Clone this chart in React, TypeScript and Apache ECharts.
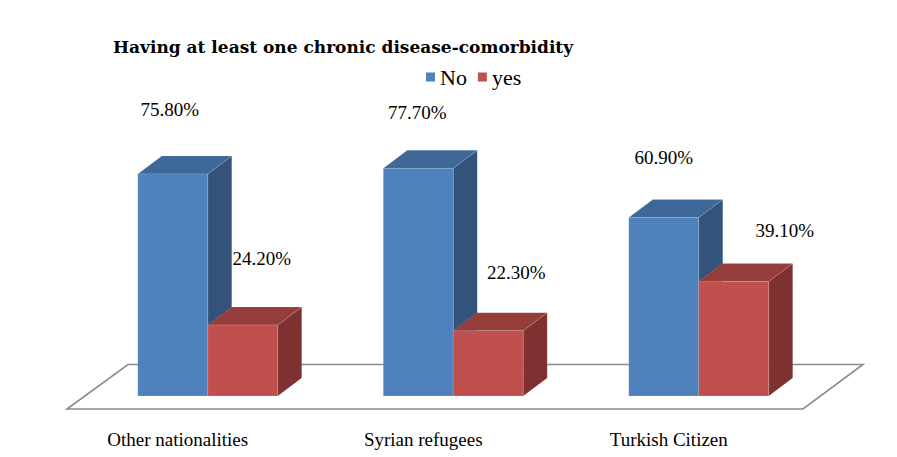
import React, { useEffect, useRef } from "react";
import * as echarts from "echarts";

const titleText = "Having at least one chronic disease-comorbidity";
const categories = ["Other nationalities", "Syrian refugees", "Turkish Citizen"];
const seriesNames = ["No", "yes"];
const noValues = [75.8, 77.7, 60.9];
const yesValues = [24.2, 22.3, 39.1];

// Palette for each box: front, top and side faces
const faces = [
  { front: "#4F81BD", top: "#3E6897", side: "#33537B" },
  { front: "#C0504D", top: "#953D3B", side: "#7D3231" },
];

// Extra placement of each value label relative to the top of its box
const labelShift = [
  [[-3, -64], [-1, -56], [0, -60]],
  [[19, -67], [28, -58], [51, -51]],
];

const DEPTH_X = 24;
const DEPTH_Y = -18;
const SERIF = "'Liberation Serif', 'DejaVu Serif', serif";

function makeRenderItem(seriesIdx: number) {
  return (params: any, api: any) => {
    const cat = api.value(0);
    const val = api.value(1);
    const base = api.coord([cat, 0]);
    const top = api.coord([cat, val]);
    const bw = api.size([1, 0])[0] * 0.285;
    const x0 = base[0] - bw + seriesIdx * bw;
    const x1 = x0 + bw;
    const yt = top[1];
    const yb = base[1];
    const c = faces[seriesIdx];
    const shift = labelShift[seriesIdx][params.dataIndex];
    return {
      type: "group",
      children: [
        {
          type: "polygon",
          shape: {
            points: [
              [x1, yt],
              [x1 + DEPTH_X, yt + DEPTH_Y],
              [x1 + DEPTH_X, yb + DEPTH_Y],
              [x1, yb],
            ],
          },
          style: { fill: c.side, stroke: "rgba(255,255,255,0.15)", lineWidth: 0.6 },
        },
        {
          type: "polygon",
          shape: {
            points: [
              [x0, yt],
              [x1, yt],
              [x1 + DEPTH_X, yt + DEPTH_Y],
              [x0 + DEPTH_X, yt + DEPTH_Y],
            ],
          },
          style: { fill: c.top, stroke: "rgba(255,255,255,0.2)", lineWidth: 0.6 },
        },
        {
          type: "rect",
          shape: { x: x0, y: yt, width: bw, height: yb - yt },
          style: { fill: c.front, stroke: "rgba(255,255,255,0.25)", lineWidth: 0.6 },
        },
        {
          type: "text",
          x: x0 + bw / 2 + shift[0],
          y: yt + shift[1],
          style: {
            text: val.toFixed(2) + "%",
            fontFamily: SERIF,
            fontSize: 19,
            fill: "#000",
            align: "center",
            verticalAlign: "middle",
          },
        },
      ],
    };
  };
}

export default function App() {
  const ref = useRef<HTMLDivElement>(null);

  useEffect(() => {
    if (!ref.current) return;
    const chart = echarts.init(ref.current, null, { renderer: "svg" });
    const valueSets = [noValues, yesValues];
    chart.setOption({
      animation: false,
      backgroundColor: "#fff",
      title: {
        text: titleText,
        left: 113,
        top: 38,
        padding: 0,
        textStyle: {
          fontFamily: "'DejaVu Serif', serif",
          fontSize: 17,
          fontWeight: "bold",
          color: "#000",
        },
      },
      legend: {
        data: seriesNames,
        left: 426,
        top: 66,
        padding: 0,
        icon: "rect",
        itemWidth: 9,
        itemHeight: 9,
        itemGap: 11,
        textStyle: { fontFamily: SERIF, fontSize: 22, color: "#000" },
      },
      grid: { left: 85, right: 75.5, top: 103, bottom: 61 },
      xAxis: {
        type: "category",
        data: categories,
        axisLine: { show: false },
        axisTick: { show: false },
        axisLabel: {
          margin: 34,
          padding: [0, 60, 0, 0],
          fontFamily: SERIF,
          fontSize: 19,
          color: "#000",
        },
      },
      yAxis: { type: "value", min: 0, max: 100, show: false },
      graphic: [
        {
          type: "polygon",
          z: 0,
          shape: {
            points: [
              [128, 364.5],
              [863, 364.5],
              [803, 409],
              [67, 409],
            ],
          },
          style: { fill: "#fff", stroke: "#8C8C8C", lineWidth: 1.6 },
        },
      ],
      series: seriesNames.map((name, s) => ({
        name,
        type: "custom",
        z: 5,
        itemStyle: { color: faces[s].front },
        renderItem: makeRenderItem(s),
        data: valueSets[s].map((v, i) => [i, v]),
      })),
    });
    return () => chart.dispose();
  }, []);

  return (
    <div
      ref={ref}
      style={{ position: "fixed", left: 0, top: 0, width: 897, height: 457 }}
    />
  );
}
